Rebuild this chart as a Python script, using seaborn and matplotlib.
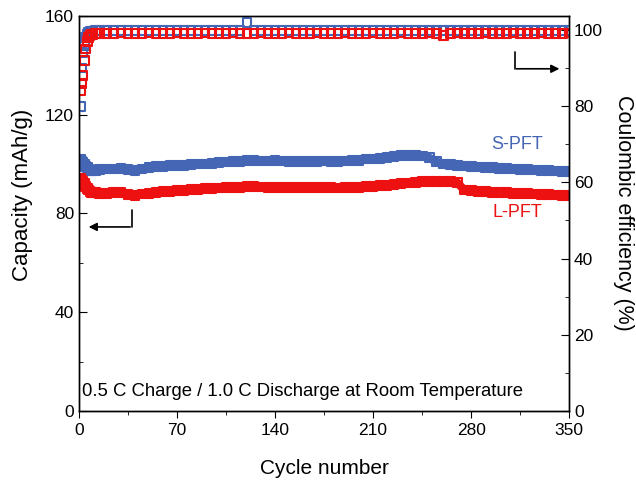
import numpy as np
import pandas as pd
import matplotlib.pyplot as plt
import seaborn as sns

sns.set_style("ticks")
plt.rcParams['font.family'] = ['Liberation Sans', 'DejaVu Sans']
plt.rcParams['text.color'] = 'black'
plt.rcParams['axes.labelcolor'] = 'black'
plt.rcParams['xtick.color'] = 'black'
plt.rcParams['ytick.color'] = 'black'

# cycle numbers where values were read
cycles = [1, 2, 3, 4, 5, 6, 7, 8, 9, 10, 12, 15,
          20, 25, 30, 35, 40, 45, 50, 55, 60, 65, 70, 75, 80, 85, 90, 95,
          100, 105, 110, 115, 120, 125, 130, 135, 140, 145, 150, 155, 160, 165,
          170, 175, 180, 185, 190, 195, 200, 205, 210, 215, 220, 225, 230, 235,
          240, 245, 250, 255, 260, 265, 270, 275, 280, 285, 290, 295, 300, 305,
          310, 315, 320, 325, 330, 335, 340, 345, 350]

# discharge capacity (mAh/g)
s_pft_cap = [102, 101, 100.5, 100, 99, 98.5, 98, 97.5, 97.5, 97.5, 97.5, 97.8,
             98, 98, 98.2, 97.8, 97.5, 98, 98.5, 99, 99, 99.3, 99.5, 99.5, 99.8, 100, 100, 100.3,
             100.5, 100.8, 101, 101, 101.5, 101.3, 101.2, 101.2, 101.3, 101.2, 101, 101, 101, 101,
             101, 101.2, 101, 101, 101.2, 101.3, 101.5, 102, 102, 102.3, 102.5, 103, 103.3, 103.5,
             103.5, 103.2, 102.5, 101, 100, 99.8, 99.5, 99.2, 99, 98.8, 98.6, 98.5, 98.3, 98.2,
             98, 97.9, 97.8, 97.6, 97.4, 97.3, 97.2, 97, 96.8]
l_pft_cap = [94, 93.5, 93, 92, 91, 90, 89.5, 89, 88.5, 88.5, 88.3, 88.2,
             88.2, 88.3, 88.3, 87.5, 87.3, 87.8, 88.2, 88.6, 88.8, 89, 89.2, 89.4, 89.6, 89.8, 90, 90.2,
             90.3, 90.4, 90.5, 90.6, 90.8, 90.8, 90.7, 90.6, 90.6, 90.5, 90.5, 90.4, 90.4, 90.5,
             90.6, 90.5, 90.4, 90.3, 90.4, 90.5, 90.6, 90.8, 91, 91.2, 91.4, 91.6, 92, 92.3,
             92.6, 92.8, 93, 93, 92.8, 92.8, 92.5, 89.5, 89.2, 89, 88.8, 88.6, 88.4, 88.3,
             88.2, 88, 87.9, 87.8, 87.6, 87.5, 87.4, 87.3, 87.2]

# coulombic efficiency (%)
s_pft_ce = [80, 90, 94, 96, 98, 98.8, 99.3, 99.5, 99.6, 99.7, 99.8, 99.8,
            99.9, 99.8, 99.9, 99.8, 99.9, 99.8, 99.9, 99.9, 99.8, 99.9, 99.9, 99.8, 99.9, 99.9, 99.8, 99.9,
            99.9, 99.8, 99.9, 99.9, 102, 99.9, 99.8, 99.9, 99.9, 99.8, 99.9, 99.9, 99.8, 99.9,
            99.9, 99.8, 99.9, 99.9, 99.8, 99.9, 99.9, 99.8, 99.9, 99.9, 99.8, 99.9, 99.9, 99.8,
            99.9, 99.9, 99.8, 99.9, 99.9, 99.8, 99.9, 99.9, 99.8, 99.9, 99.9, 99.8, 99.9, 99.9,
            99.8, 99.9, 99.9, 99.8, 99.9, 99.9, 99.8, 99.9, 99.9]
l_pft_ce = [84, 86, 88, 92, 95, 97, 98, 98.5, 98.8, 98.9, 99, 99,
            99.1, 99, 99.2, 99, 99.1, 99, 99.2, 99, 99.1, 99, 99.2, 99, 99.1, 99, 99.2, 99,
            99.1, 99, 99.2, 99, 99.1, 99, 99.2, 99, 99.1, 99, 99.2, 99, 99.1, 99,
            99.2, 99, 99.1, 99, 99.2, 99, 99.1, 99, 99.2, 99, 99.1, 99, 99.2, 99,
            99.1, 99, 99.2, 99, 98.5, 99, 99.2, 99, 99.1, 99, 99.2, 99, 99.1, 99,
            99.2, 99, 99.1, 99, 99.2, 99, 99.1, 99, 99.2]

blue = '#4466b4'
red = '#ee1111'

fig = plt.figure(figsize=(6.36, 4.8), dpi=100)
ax = fig.add_axes([0.124, 0.144, 0.771, 0.823])
ax2 = ax.twinx()

mk = dict(marker='s', s=40, facecolor='none', linewidth=1.5, legend=False)
# dense capacity points show as a solid band
sns.lineplot(x=cycles, y=s_pft_cap, ax=ax, color=blue, lw=6, legend=False)
sns.lineplot(x=cycles, y=l_pft_cap, ax=ax, color=red, lw=6, legend=False)
sns.scatterplot(x=cycles, y=s_pft_cap, ax=ax, edgecolor=blue, **mk)
sns.scatterplot(x=cycles, y=l_pft_cap, ax=ax, edgecolor=red, **mk)
sns.scatterplot(x=cycles, y=s_pft_ce, ax=ax2, edgecolor=blue, **mk)
sns.scatterplot(x=cycles, y=l_pft_ce, ax=ax2, edgecolor=red, **mk)

ax.set_xlim(0, 350)
ax.set_ylim(0, 160)
ax2.set_ylim(0, 103.7)
ax.set_xticks(np.arange(0, 351, 70))
ax.set_xticks(np.arange(35, 351, 70), minor=True)
ax.set_yticks(np.arange(0, 161, 40))
ax.set_yticks(np.arange(20, 161, 40), minor=True)
ax2.set_yticks(np.arange(0, 101, 20))
ax2.set_yticks(np.arange(10, 101, 20), minor=True)

ax.tick_params(axis='x', which='both', direction='out', labelsize=12.5, color='black')
ax.tick_params(axis='x', which='major', length=5)
ax.tick_params(axis='x', which='minor', length=3)
ax.tick_params(axis='y', which='both', direction='in', labelsize=12.5)
ax.tick_params(axis='y', which='major', length=6)
ax.tick_params(axis='y', which='minor', length=3)
ax2.tick_params(axis='y', which='both', direction='in', labelsize=12.5)
ax2.tick_params(axis='y', which='major', length=6)
ax2.tick_params(axis='y', which='minor', length=3)

for a in (ax, ax2):
    for sp in a.spines.values():
        sp.set_visible(True)
        sp.set_color('black')
        sp.set_linewidth(1.0)

ax.set_xlabel('Cycle number', fontsize=15, labelpad=15)
ax.set_ylabel('Capacity (mAh/g)', fontsize=16)
ax.yaxis.set_label_coords(-0.094, 0.547)
ax2.set_ylabel('Coulombic efficiency (%)', fontsize=15.5, rotation=270, va='center')
ax2.yaxis.set_label_coords(1.11, 0.5)

ax.text(2.5, 8, '0.5 C Charge / 1.0 C Discharge at Room Temperature', fontsize=13.3,
        va='center', ha='left')
ax.text(313, 107.7, 'S-PFT', color=blue, fontsize=13, ha='center', va='center')
ax.text(313, 80.2, 'L-PFT', color=red, fontsize=13, ha='center', va='center')

# arrows pointing to each axis
ax.plot([38, 38], [81.4, 74.5], color='black', lw=1.2)
ax.annotate('', xy=(5, 74.5), xytext=(38.6, 74.5),
            arrowprops=dict(arrowstyle='-|>', color='black', lw=1.2, mutation_scale=12))
ax2.plot([311, 311], [94.2, 89.8], color='black', lw=1.2)
ax2.annotate('', xy=(345, 89.8), xytext=(310.4, 89.8),
             arrowprops=dict(arrowstyle='-|>', color='black', lw=1.2, mutation_scale=12))

fig.savefig('out.png', dpi=100)
